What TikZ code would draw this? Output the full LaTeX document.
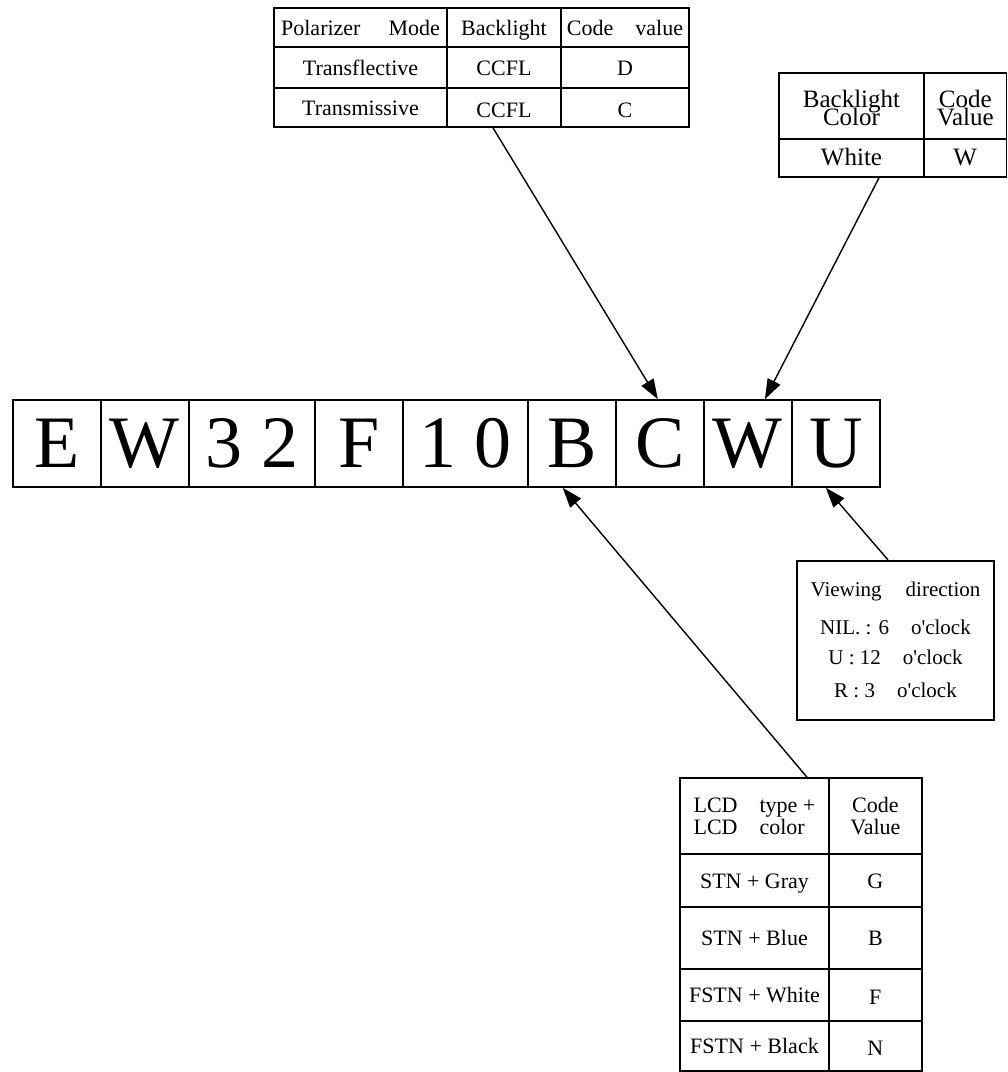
\documentclass[tikz,border=0pt]{standalone}
\usepackage{fontspec}
\setmainfont{Liberation Serif}
\usetikzlibrary{arrows.meta}
\tikzstyle{pointer} = [line width=1.4pt, -{Triangle[length=20pt,width=14pt]}]
\tikzset{cell/.style={draw, line width=1.6pt, inner sep=0pt, align=center},
  smalltext/.style={font=\fontsize{22}{24}\selectfont},
  oneline/.style={text height=15pt, text depth=0pt},
  lowline/.style={text height=20pt, text depth=0pt},
  bigtext/.style={font=\fontsize{74}{80}\selectfont, minimum height=87pt}}
\newcommand{\oclock}{o\textquotesingle clock}

\begin{document}
\begin{tikzpicture}[x=1pt, y=-1pt]
        \useasboundingbox (0,0) rectangle (1008,1072);

        % Polarizer / backlight table
        \begin{scope}[smalltext]
        \node[cell, oneline, minimum width=173pt, minimum height=39pt] (pol11) at (360.5,27.5) {Polarizer\hspace{28pt}Mode};
        \node[cell, oneline, minimum width=114pt, minimum height=39pt] (pol12) at (504,27.5) {Backlight};
        \node[cell, oneline, minimum width=128pt, minimum height=39pt] (pol13) at (625,27.5) {Code\hspace{22pt}value};
        \node[cell, oneline, minimum width=173pt, minimum height=41pt] (pol21) at (360.5,67.5) {Transflective};
        \node[cell, oneline, minimum width=114pt, minimum height=41pt] (pol22) at (504,67.5) {CCFL};
        \node[cell, oneline, minimum width=128pt, minimum height=41pt] (pol23) at (625,67.5) {D};
        \node[cell, oneline, minimum width=173pt, minimum height=39pt] (pol31) at (360.5,107.5) {Transmissive};
        \node[cell, lowline, minimum width=114pt, minimum height=39pt] (pol32) at (504,107.5) {CCFL};
        \node[cell, lowline, minimum width=128pt, minimum height=39pt] (pol33) at (625,107.5) {C};
        \end{scope}

        % Backlight colour table
        \begin{scope}[font={\fontsize{25}{18}\selectfont\lineskiplimit=-20pt}]
        \node[cell, text height=38pt, text depth=0pt, minimum width=145pt, minimum height=66pt] (col11) at (851.5,106) {Backlight\\Color};
        \node[cell, text height=38pt, text depth=0pt, minimum width=82.5pt, minimum height=66pt] (col12) at (965.25,106) {Code\\Value};
        \node[cell, oneline, minimum width=145pt, minimum height=38pt] (col21) at (851.5,158) {White};
        \node[cell, oneline, minimum width=82.5pt, minimum height=38pt] (col22) at (965.25,158) {W};
        \end{scope}

        % Part number
        \node[cell, bigtext, minimum width=88pt] (cE) at (56.7,443.5) {E};
        \node[cell, bigtext, minimum width=88.3pt] (cW1) at (144.85,443.5) {W};
        \node[cell, bigtext, minimum width=126pt] (c32) at (252,443.5) {3 2};
        \node[cell, bigtext, minimum width=88pt] (cF) at (359,443.5) {F};
        \node[cell, bigtext, minimum width=124.7pt] (c10) at (465.35,443.5) {1 0};
        \node[cell, bigtext, minimum width=88pt] (cB) at (571.7,443.5) {B};
        \node[cell, bigtext, minimum width=88.3pt] (cC) at (659.85,443.5) {C};
        \node[cell, bigtext, minimum width=87.7pt] (cW2) at (747.85,443.5) {W};
        \node[cell, bigtext, minimum width=88.3pt] (cU) at (835.85,443.5) {U};

        % Viewing direction
        \node[cell, font=\fontsize{21}{25}\selectfont, minimum width=197pt, minimum height=159.3pt] (view) at (895.5,640.35)
          {Viewing\hspace{24pt}direction\\[13pt]
           NIL. : 6\hspace{22pt}\oclock\\[5pt]
           U : 12\hspace{22pt}\oclock\\[8pt]
           R : 3\hspace{22pt}\oclock};

        % LCD type table
        \begin{scope}[smalltext]
        \node[cell, align=left, font=\fontsize{22}{22}\selectfont, minimum width=149pt, minimum height=76pt] (lcd11) at (754.5,816)
          {LCD\hspace{22pt}type +\\LCD\hspace{22pt}color};
        \node[cell, font=\fontsize{22}{22}\selectfont, minimum width=92.7pt, minimum height=76pt] (lcd12) at (875.35,816) {Code\\Value};
        \node[cell, oneline, minimum width=149pt, minimum height=53pt] (lcd21) at (754.5,880.5) {STN + Gray};
        \node[cell, oneline, minimum width=92.7pt, minimum height=53pt] (lcd22) at (875.35,880.5) {G};
        \node[cell, oneline, minimum width=149pt, minimum height=62pt] (lcd31) at (754.5,938) {STN + Blue};
        \node[cell, oneline, minimum width=92.7pt, minimum height=62pt] (lcd32) at (875.35,938) {B};
        \node[cell, oneline, minimum width=149pt, minimum height=51.7pt] (lcd41) at (754.5,994.85) {FSTN + White};
        \node[cell, lowline, minimum width=92.7pt, minimum height=51.7pt] (lcd42) at (875.35,994.85) {F};
        \node[cell, oneline, minimum width=149pt, minimum height=50.3pt] (lcd51) at (754.5,1045.85) {FSTN + Black};
        \node[cell, lowline, minimum width=92.7pt, minimum height=50.3pt] (lcd52) at (875.35,1045.85) {N};
        \end{scope}

        % Arrows
        \draw[pointer] ([xshift=-11pt]pol32.south) -- ([xshift=-2pt]cC.north);
        \draw[pointer] ([xshift=27.5pt]col21.south) -- ([xshift=17pt]cW2.north);
        \draw[pointer] ([xshift=52.5pt]lcd11.north) -- ([xshift=-9pt]cB.south);
        \draw[pointer] ([xshift=-7.5pt]view.north) -- ([xshift=-10pt]cU.south);
    \end{tikzpicture}
\end{document}
